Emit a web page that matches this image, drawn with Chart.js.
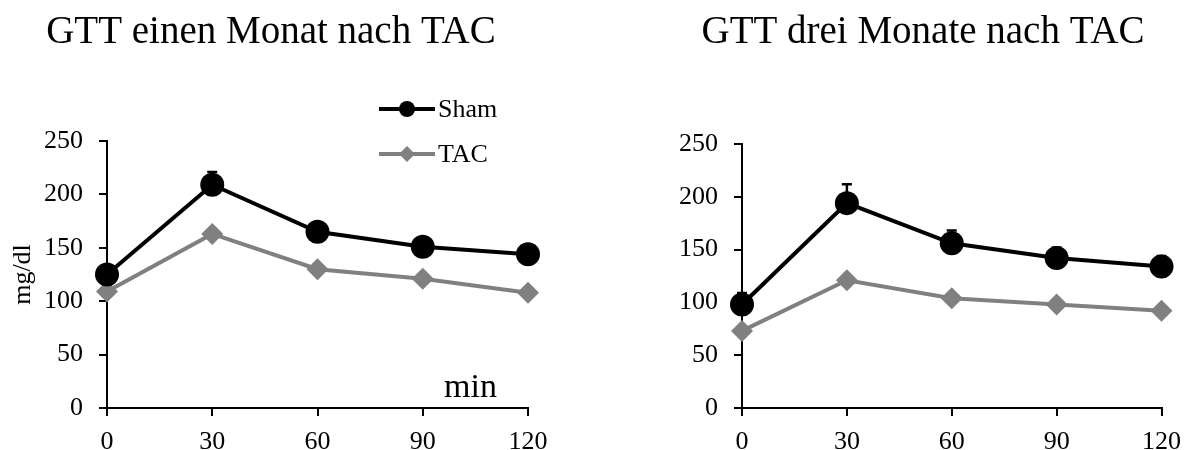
<!DOCTYPE html>
<html>
<head>
<meta charset="utf-8">
<title>GTT nach TAC</title>
<script src="https://cdn.jsdelivr.net/npm/chart.js@4.4.1/dist/chart.umd.min.js"></script>
<style>
    body { margin: 0; background: #fff; }
    .wrap { display: flex; width: 1192px; height: 450px; }
    canvas { display: block; }
</style>
</head>
<body>
<div class="wrap">
    <canvas id="gttOne" width="596" height="450"></canvas>
    <canvas id="gttThree" width="596" height="450"></canvas>
</div>
<script>
// Zeitpunkte (min)
const minutes = [0, 30, 60, 90, 120];

// GTT einen Monat nach TAC
const shamOne = [125, 209, 165, 151, 144];
const shamOneErr = [4, 12, 4, 4, 4];
const tacOne = [109, 163, 130, 121, 108];
const tacOneErr = [3, 4, 3, 3, 3];

// GTT drei Monate nach TAC
const shamThree = [98, 194, 156, 142, 134];
const shamThreeErr = [11, 18, 12, 10, 10];
const tacThree = [73, 121, 104, 98, 92];
const tacThreeErr = [3, 4, 3, 3, 3];

const serif = "'Liberation Serif', 'Times New Roman', serif";
const SHAM_COLOR = '#000000';
const TAC_COLOR = '#808080';

Chart.defaults.font.family = serif;
Chart.defaults.font.size = 26;
Chart.defaults.color = '#000';

// Fehlerbalken (nur nach oben), unter den Markern gezeichnet
const errorBars = {
    id: 'errorBars',
    beforeDatasetsDraw(chart) {
        const ctx = chart.ctx;
        const yScale = chart.scales.y;
        chart.data.datasets.forEach((ds, i) => {
            if (!ds.errors) return;
            const meta = chart.getDatasetMeta(i);
            ctx.save();
            ctx.strokeStyle = ds.borderColor;
            ctx.lineWidth = 2.5;
            meta.data.forEach((pt, j) => {
                const top = yScale.getPixelForValue(ds.data[j].y + ds.errors[j]);
                ctx.beginPath();
                ctx.moveTo(pt.x, pt.y);
                ctx.lineTo(pt.x, top);
                ctx.moveTo(pt.x - 5, top);
                ctx.lineTo(pt.x + 5, top);
                ctx.stroke();
            });
            ctx.restore();
        });
    }
};

// Überschrift, Legende und "min"
const extras = {
    id: 'extras',
    afterDraw(chart, args, opts) {
        const ctx = chart.ctx;
        ctx.save();
        ctx.fillStyle = '#000';
        ctx.textBaseline = 'alphabetic';
        if (opts.title) {
            ctx.font = `39px ${serif}`;
            ctx.textAlign = 'center';
            ctx.fillText(opts.title, opts.titleX, 43);
        }
        if (opts.unit) {
            ctx.font = `34px ${serif}`;
            ctx.textAlign = 'left';
            ctx.fillText(opts.unit, 444, 397);
        }
        if (opts.legend) {
            chart.data.datasets.forEach((ds, i) => {
                const ly = 109 + i * 45;
                ctx.strokeStyle = ds.borderColor;
                ctx.fillStyle = ds.borderColor;
                ctx.lineWidth = 4;
                ctx.beginPath();
                ctx.moveTo(379, ly);
                ctx.lineTo(435, ly);
                ctx.stroke();
                ctx.beginPath();
                if (ds.pointStyle === 'circle') {
                    ctx.arc(407, ly, 8, 0, Math.PI * 2);
                } else {
                    ctx.moveTo(407, ly - 8);
                    ctx.lineTo(415, ly);
                    ctx.lineTo(407, ly + 8);
                    ctx.lineTo(399, ly);
                    ctx.closePath();
                }
                ctx.fill();
                ctx.fillStyle = '#000';
                ctx.font = `26px ${serif}`;
                ctx.textAlign = 'left';
                ctx.textBaseline = 'middle';
                ctx.fillText(ds.label, 438, ly + 1);
            });
        }
        ctx.restore();
    }
};

function points(values) {
    return minutes.map((m, i) => ({ x: m, y: values[i] }));
}

function makeChart(id, cfg) {
    return new Chart(document.getElementById(id), {
        type: 'line',
        data: {
            datasets: [{
                label: 'Sham',
                data: points(cfg.sham),
                errors: cfg.shamErr,
                borderColor: SHAM_COLOR,
                backgroundColor: SHAM_COLOR,
                borderWidth: 4,
                pointStyle: 'circle',
                pointRadius: 12,
                pointBorderWidth: 0,
                clip: false
            }, {
                label: 'TAC',
                data: points(cfg.tac),
                errors: cfg.tacErr,
                borderColor: TAC_COLOR,
                backgroundColor: TAC_COLOR,
                borderWidth: 4,
                pointStyle: 'rectRot',
                pointRadius: 11,
                pointBorderWidth: 0,
                clip: false
            }]
        },
        options: {
            responsive: false,
            animation: false,
            layout: { padding: cfg.padding },
            plugins: {
                legend: { display: false },
                tooltip: { enabled: false },
                extras: cfg.extras
            },
            scales: {
                x: {
                    type: 'linear',
                    min: 0,
                    max: 120,
                    afterFit: (scale) => { scale.height = 42; },
                    ticks: { stepSize: 30, padding: 11, maxRotation: 0 },
                    grid: { drawOnChartArea: false, tickLength: 8, color: '#000', lineWidth: 2 },
                    border: { color: '#000', width: 2 }
                },
                y: {
                    min: 0,
                    max: 250,
                    afterFit: (scale) => { scale.width = cfg.axisWidth; },
                    ticks: { stepSize: 50, padding: 16 },
                    grid: { drawOnChartArea: false, tickLength: 8, color: '#000', lineWidth: 2 },
                    border: { color: '#000', width: 2 },
                    title: {
                        display: !!cfg.yTitle,
                        text: cfg.yTitle || '',
                        font: { size: 26 },
                        padding: { top: 8, bottom: 0 }
                    }
                }
            }
        },
        plugins: [errorBars, extras]
    });
}

makeChart('gttOne', {
    sham: shamOne, shamErr: shamOneErr,
    tac: tacOne, tacErr: tacOneErr,
    padding: { top: 141, right: 68, left: 0, bottom: 0 },
    axisWidth: 107,
    yTitle: 'mg/dl',
    extras: { title: 'GTT einen Monat nach TAC', titleX: 271, unit: 'min', legend: true }
});

makeChart('gttThree', {
    sham: shamThree, shamErr: shamThreeErr,
    tac: tacThree, tacErr: tacThreeErr,
    padding: { top: 144, right: 28, left: 0, bottom: 0 },
    axisWidth: 146,
    extras: { title: 'GTT drei Monate nach TAC', titleX: 327, legend: false }
});
</script>
</body>
</html>
